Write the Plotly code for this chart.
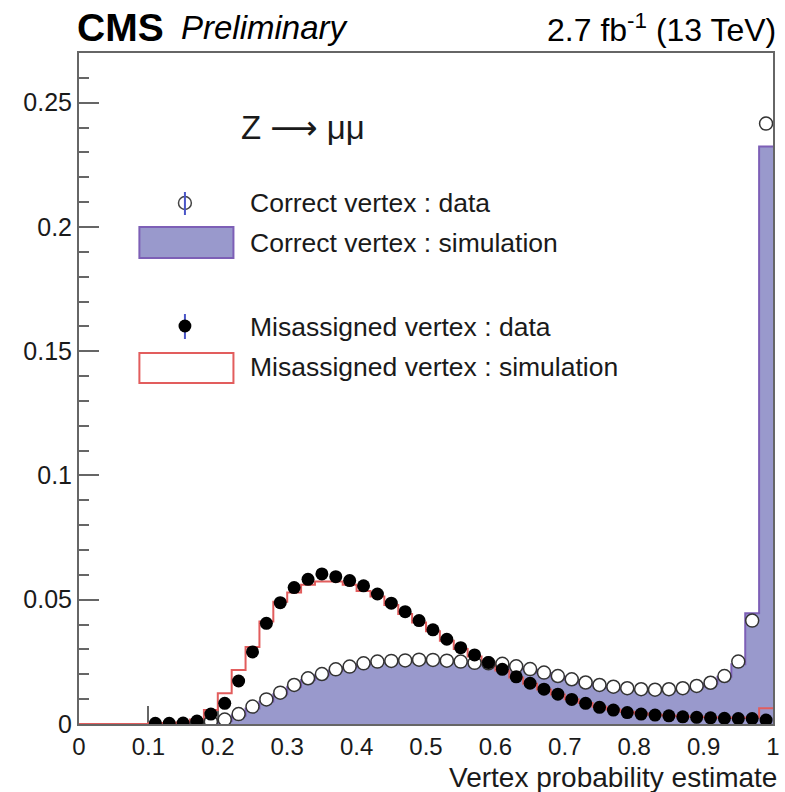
import plotly.graph_objects as go

# 50 bins of width 0.02 between 0 and 1
bin_edges = [round(i * 0.02, 2) for i in range(51)]
bin_centers = [round(0.01 + i * 0.02, 2) for i in range(50)]

# Misassigned vertex: data points (None = empty bin)
mis_data = [None, None, None, None, None,
            0.0003, 0.0003, 0.0004, 0.0012, 0.0040,
            0.0083, 0.0173, 0.0290, 0.0405, 0.0488,
            0.0549, 0.0582, 0.0604, 0.0593, 0.0577,
            0.0556, 0.0523, 0.0486, 0.0452, 0.0416,
            0.0379, 0.0341, 0.0307, 0.0278, 0.0247,
            0.0220, 0.0190, 0.0164, 0.0140, 0.0120,
            0.0099, 0.0083, 0.0067, 0.0056, 0.0046,
            0.0040, 0.0036, 0.0033, 0.0029, 0.0027,
            0.0025, 0.0023, 0.0022, 0.0022, 0.0016]

# Misassigned vertex: simulation histogram
mis_sim = [0.0, 0.0, 0.0, 0.0, 0.0,
           0.0003, 0.0004, 0.0006, 0.0018, 0.0056,
           0.0124, 0.0217, 0.0310, 0.0412, 0.0492,
           0.0529, 0.0560, 0.0573, 0.0573, 0.0560,
           0.0535, 0.0513, 0.0479, 0.0443, 0.0408,
           0.0373, 0.0335, 0.0302, 0.0272, 0.0243,
           0.0215, 0.0187, 0.0162, 0.0139, 0.0119,
           0.0100, 0.0084, 0.0069, 0.0058, 0.0049,
           0.0042, 0.0037, 0.0034, 0.0031, 0.0029,
           0.0027, 0.0026, 0.0025, 0.0026, 0.0063]

# Correct vertex: data points
cor_data = [None, None, None, None, None, None, None, None,
            0.0004, 0.0010,
            0.0018, 0.0040, 0.0070, 0.0099, 0.0126,
            0.0157, 0.0184, 0.0201, 0.0220, 0.0231,
            0.0244, 0.0251, 0.0254, 0.0256, 0.0259,
            0.0258, 0.0255, 0.0251, 0.0246, 0.0244,
            0.0242, 0.0232, 0.0221, 0.0207, 0.0193,
            0.0180, 0.0167, 0.0157, 0.0150, 0.0144,
            0.0140, 0.0138, 0.0140, 0.0144, 0.0153,
            0.0166, 0.0193, 0.0251, 0.0416, 0.2416]

# Correct vertex: simulation histogram
cor_sim = [0.0, 0.0, 0.0, 0.0, 0.0, 0.0, 0.0, 0.0, 0.0,
           0.0004,
           0.0012, 0.0034, 0.0062, 0.0091, 0.0120,
           0.0150, 0.0177, 0.0196, 0.0215, 0.0228,
           0.0240, 0.0248, 0.0252, 0.0255, 0.0257,
           0.0257, 0.0254, 0.0250, 0.0246, 0.0241,
           0.0237, 0.0228, 0.0218, 0.0205, 0.0191,
           0.0177, 0.0164, 0.0154, 0.0147, 0.0141,
           0.0137, 0.0135, 0.0136, 0.0140, 0.0149,
           0.0162, 0.0190, 0.0240, 0.0446, 0.2324]

x_ticks = [0, 0.1, 0.2, 0.3, 0.4, 0.5, 0.6, 0.7, 0.8, 0.9, 1]
x_ticktext = ["0", "0.1", "0.2", "0.3", "0.4", "0.5", "0.6", "0.7", "0.8", "0.9", "1"]
y_ticks = [0, 0.05, 0.1, 0.15, 0.2, 0.25]
y_ticktext = ["0", "0.05", "0.1", "0.15", "0.2", "0.25"]

legend_labels = ["Correct vertex : data", "Correct vertex : simulation",
                 "Misassigned vertex : data", "Misassigned vertex : simulation"]

PURPLE_FILL = "#9999cc"
PURPLE_LINE = "#7d5fb6"
RED = "#e25d5d"
FONT = "Liberation Sans, Arial, Helvetica, sans-serif"

W, H = 785, 792
ML, MR, MT, MB = 79, 5, 53, 68
PW, PH = W - ML - MR, H - MT - MB


def px(xp):
    return (xp - ML) / PW


def py(yp):
    return (H - MB - yp) / PH


def step(values):
    # left edges plus the closing edge for an "hv" step outline
    return bin_edges[:-1] + [bin_edges[-1]], list(values) + [values[-1]]


fig = go.Figure()

sx, sy = step(cor_sim)
fig.add_trace(go.Scatter(x=sx, y=sy, mode="lines", line_shape="hv",
                         line=dict(color=PURPLE_LINE, width=2),
                         fill="tozeroy", fillcolor=PURPLE_FILL,
                         showlegend=False, hoverinfo="skip"))

sx, sy = step(mis_sim)
fig.add_trace(go.Scatter(x=sx, y=sy, mode="lines", line_shape="hv",
                         line=dict(color=RED, width=2),
                         showlegend=False, hoverinfo="skip"))

fig.add_trace(go.Scatter(x=bin_centers, y=cor_data, mode="markers",
                         marker=dict(symbol="circle", size=13, color="white",
                                     line=dict(color="#333333", width=1.5)),
                         showlegend=False))

fig.add_trace(go.Scatter(x=bin_centers, y=mis_data, mode="markers",
                         marker=dict(symbol="circle", size=13, color="black",
                                     line=dict(color="black", width=0)),
                         showlegend=False))

shapes = []
annotations = []

# hand-built legend
r = 6.5
lx = 186
# correct data: open marker with error bar
shapes.append(dict(type="circle", xref="paper", yref="paper",
                   x0=px(lx - r), x1=px(lx + r), y0=py(203 + r), y1=py(203 - r),
                   fillcolor="white", line=dict(color="#444444", width=1.5)))
shapes.append(dict(type="line", xref="paper", yref="paper",
                   x0=px(lx), x1=px(lx), y0=py(192), y1=py(215),
                   line=dict(color="#4a55c8", width=2)))
# correct simulation: filled box
shapes.append(dict(type="rect", xref="paper", yref="paper",
                   x0=px(140), x1=px(235), y0=py(258), y1=py(227),
                   fillcolor=PURPLE_FILL, line=dict(color=PURPLE_LINE, width=2)))
# misassigned data: filled marker with error bar
shapes.append(dict(type="line", xref="paper", yref="paper",
                   x0=px(lx), x1=px(lx), y0=py(314), y1=py(339),
                   line=dict(color="#4a55c8", width=2)))
shapes.append(dict(type="circle", xref="paper", yref="paper",
                   x0=px(lx - r), x1=px(lx + r), y0=py(326 + r), y1=py(326 - r),
                   fillcolor="black", line=dict(color="black", width=0)))
# misassigned simulation: open box
shapes.append(dict(type="rect", xref="paper", yref="paper",
                   x0=px(140), x1=px(235), y0=py(383), y1=py(353),
                   fillcolor="white", line=dict(color=RED, width=2)))

for label, yc in zip(legend_labels, [203, 243, 327, 367]):
    annotations.append(dict(text=label, xref="paper", yref="paper",
                            x=px(250), y=py(yc), xanchor="left", yanchor="middle",
                            showarrow=False, font=dict(family=FONT, size=26.5, color="#1a1a1a")))

annotations.append(dict(
    text='Z <span style="font-family:DejaVu Sans">⟶</span> μμ',
    xref="paper", yref="paper", x=px(241), y=py(128), xanchor="left", yanchor="middle",
    showarrow=False, font=dict(family=FONT, size=33, color="#1a1a1a")))

annotations.append(dict(text="<b>CMS</b>", xref="paper", yref="paper",
                        x=px(75), y=py(27), xanchor="left", yanchor="middle",
                        showarrow=False, font=dict(family=FONT, size=39, color="black")))
annotations.append(dict(text="<i>Preliminary</i>", xref="paper", yref="paper",
                        x=px(180), y=py(28), xanchor="left", yanchor="middle",
                        showarrow=False, font=dict(family=FONT, size=33, color="black")))
annotations.append(dict(text="2.7 fb<sup>-1</sup> (13 TeV)", xref="paper", yref="paper",
                        x=px(785), y=py(28), xanchor="right", yanchor="middle",
                        showarrow=False, font=dict(family=FONT, size=32, color="black")))
annotations.append(dict(text="Vertex probability estimate", xref="paper", yref="paper",
                        x=px(786), y=py(777), xanchor="right", yanchor="middle",
                        showarrow=False, font=dict(family=FONT, size=28, color="#1a1a1a")))

fig.update_layout(
    width=W, height=H,
    margin=dict(l=ML, r=MR, t=MT, b=MB, pad=0),
    paper_bgcolor="white", plot_bgcolor="white",
    showlegend=False,
    shapes=shapes, annotations=annotations,
    font=dict(family=FONT, color="#1a1a1a"),
)

fig.update_xaxes(range=[0, 1], tickvals=x_ticks, ticktext=x_ticktext,
                 ticks="inside", ticklen=18, tickwidth=1.5, tickcolor="#666666",
                 showgrid=False, zeroline=False,
                 showline=True, linecolor="#666666", linewidth=2, mirror=True,
                 layer="below traces",
                 tickfont=dict(family=FONT, size=24, color="#1a1a1a"))

fig.update_yaxes(range=[0, 0.27], tickvals=y_ticks, ticktext=y_ticktext,
                 ticks="inside", ticklen=20, tickwidth=1.5, tickcolor="#666666",
                 minor=dict(ticks="inside", ticklen=10, dtick=0.01, tick0=0,
                            tickcolor="#666666", tickwidth=1.5, showgrid=False),
                 showgrid=False, zeroline=False,
                 showline=True, linecolor="#666666", linewidth=2, mirror=True,
                 layer="below traces",
                 tickfont=dict(family=FONT, size=25, color="#1a1a1a"))

fig.write_html("out.html")
